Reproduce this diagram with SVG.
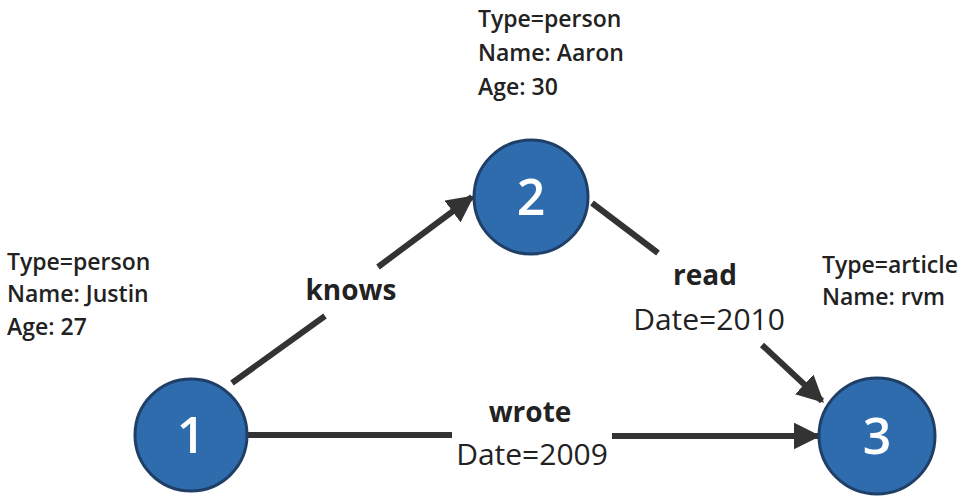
<svg xmlns="http://www.w3.org/2000/svg" width="968" height="500" viewBox="0 0 968 500">
<style>
.node{fill:#2f6cae;stroke:#203f66;stroke-width:3}
.num{fill:#fff;font-family:"Open Sans","Liberation Sans",sans-serif;font-size:50px;font-weight:600;text-anchor:middle}
.edge{stroke:#333;stroke-width:6;fill:none}
.lab{fill:#222;font-family:"Open Sans","Liberation Sans",sans-serif;font-size:30px;text-anchor:middle}
.b{font-weight:bold;font-size:28px}
.attr{fill:#222;font-family:"Open Sans","Liberation Sans",sans-serif;font-size:23px;font-weight:600}
</style>
<defs>
<marker id="arr" viewBox="0 0 10 10" refX="9" refY="5" markerWidth="4.5" markerHeight="4.5" orient="auto" markerUnits="strokeWidth">
<path d="M0,0 L10,5 L0,10 z" fill="#333"/>
</marker>
</defs>
<rect width="968" height="500" fill="#fff"/>
<g id="edges">
<line class="edge" x1="232" y1="383" x2="325" y2="316"/>
<line class="edge" x1="378" y1="267" x2="472" y2="197" marker-end="url(#arr)"/>
<line class="edge" x1="592" y1="203" x2="658" y2="253"/>
<line class="edge" x1="762" y1="345" x2="822" y2="401" marker-end="url(#arr)"/>
<line class="edge" x1="248" y1="435" x2="452" y2="435"/>
<line class="edge" x1="612" y1="436" x2="818" y2="436" marker-end="url(#arr)"/>
<text class="lab b" x="351" y="300">knows</text>
<text class="lab b" x="705" y="285">read</text>
<text class="lab" x="709" y="330">Date=2010</text>
<text class="lab b" x="530" y="422">wrote</text>
<text class="lab" x="532" y="465">Date=2009</text>
</g>
<g id="node1">
<circle class="node" cx="191" cy="435" r="56"/>
<text class="num" x="191" y="453">1</text>
<text class="attr" x="7" y="270">Type=person</text>
<text class="attr" x="7" y="302">Name: Justin</text>
<text class="attr" x="7" y="335">Age: 27</text>
</g>
<g id="node2">
<circle class="node" cx="531" cy="197" r="57"/>
<text class="num" x="531" y="215">2</text>
<text class="attr" x="478" y="27">Type=person</text>
<text class="attr" x="478" y="61">Name: Aaron</text>
<text class="attr" x="478" y="95">Age: 30</text>
</g>
<g id="node3">
<circle class="node" cx="877" cy="436" r="58"/>
<text class="num" x="877" y="454">3</text>
<text class="attr" x="822" y="273">Type=article</text>
<text class="attr" x="822" y="305">Name: rvm</text>
</g>
</svg>
